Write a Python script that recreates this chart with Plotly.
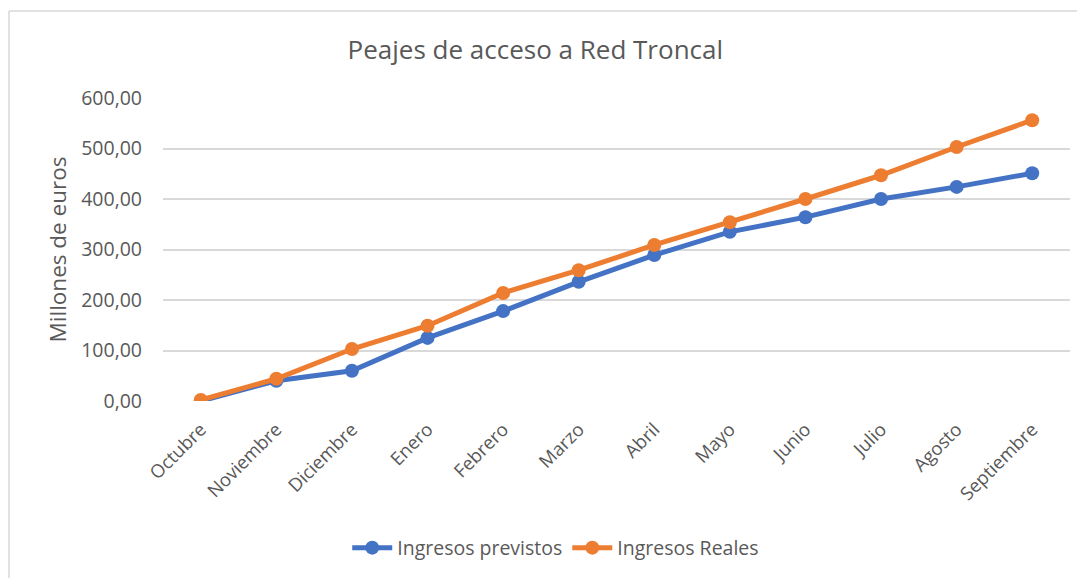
import plotly.graph_objects as go

# ── Data ───────────────────────────────────────────────────────────────────────
MESES = ["Octubre", "Noviembre", "Diciembre", "Enero", "Febrero", "Marzo",
         "Abril", "Mayo", "Junio", "Julio", "Agosto", "Septiembre"]
PREVISTOS = [0, 40, 60, 125, 178, 236, 289, 335, 364, 400, 424, 451]
REALES = [2, 44, 103, 149, 214, 259, 309, 354, 400, 447, 503, 556]
Y_TICKS = [0, 100, 200, 300, 400, 500, 600]

BLUE = "#4472C4"
ORANGE = "#ED7D31"
TEXT = "#595959"
FONT = "'Open Sans', Lato, sans-serif"

fig = go.Figure()
for name, vals, color in [("Ingresos previstos", PREVISTOS, BLUE),
                          ("Ingresos Reales", REALES, ORANGE)]:
    fig.add_trace(go.Scatter(
        x=MESES, y=vals, name=name,
        mode="lines+markers",
        line=dict(color=color, width=5),
        marker=dict(color=color, size=14),
    ))

# Excel-style chart border (only top and left edges visible in the crop)
fig.add_shape(type="line", xref="paper", yref="paper",
              x0=-0.1698, x1=1.03, y0=1.287, y1=1.287,
              line=dict(color="#D9D9D9", width=1.5))
fig.add_shape(type="line", xref="paper", yref="paper",
              x0=-0.1698, x1=-0.1698, y0=1.287, y1=-0.62,
              line=dict(color="#D9D9D9", width=1.5))

fig.update_layout(
    width=1085, height=578,
    paper_bgcolor="white", plot_bgcolor="white",
    font=dict(family=FONT, color=TEXT),
    margin=dict(l=155, r=23, t=90, b=185),
    title=dict(text="Peajes de acceso a Red Troncal", x=0.486, xanchor="center",
               y=0.927, yanchor="middle", font=dict(size=26, color=TEXT)),
    xaxis=dict(
        range=[-0.5, len(MESES) - 0.5],
        showgrid=False, showline=False, zeroline=False, automargin=False,
        tickangle=-45, tickfont=dict(size=18.5, color=TEXT),
        ticks="", ticklen=0, ticklabelstandoff=13,
    ),
    yaxis=dict(
        range=[0, 600], tickvals=Y_TICKS, automargin=False,
        ticktext=[f"{v:,.2f}".replace(".", ",") for v in Y_TICKS],
        gridcolor="#D9D9D9", gridwidth=1.5, zeroline=False, showline=False,
        tickfont=dict(size=19.5, color=TEXT), ticks="", ticklabelstandoff=20,
        title=dict(text="Millones de euros", font=dict(size=22.5, color=TEXT), standoff=8),
    ),
    legend=dict(orientation="h", x=0.433, xanchor="center", y=-0.485, yanchor="middle",
                font=dict(size=19.5, color=TEXT), itemwidth=40),
    showlegend=True,
)

fig.write_html("out.html")
